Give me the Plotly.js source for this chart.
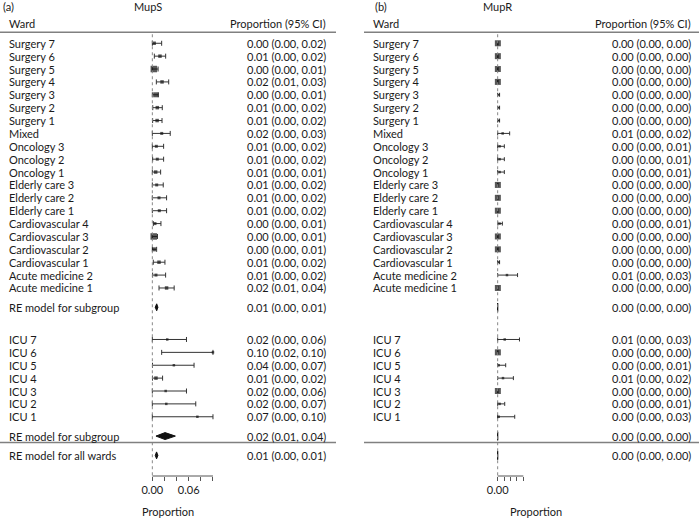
<!DOCTYPE html>
<html>
<head>
<meta charset="utf-8">
<script src="https://cdn.plot.ly/plotly-3.0.1.min.js"></script>
<style>html,body{margin:0;padding:0;background:#fff;}#chart{width:699px;height:519px;}</style>
</head>
<body>
<div id="chart"></div>
<script>
// ---------------- DATA ----------------
const otherWards = ['Surgery 7','Surgery 6','Surgery 5','Surgery 4','Surgery 3','Surgery 2','Surgery 1','Mixed',
  'Oncology 3','Oncology 2','Oncology 1','Elderly care 3','Elderly care 2','Elderly care 1',
  'Cardiovascular 4','Cardiovascular 3','Cardiovascular 2','Cardiovascular 1','Acute medicine 2','Acute medicine 1'];
const icuWards = ['ICU 7','ICU 6','ICU 5','ICU 4','ICU 3','ICU 2','ICU 1'];
const reSubgroupLabel = 'RE model for subgroup';
const reAllLabel = 'RE model for all wards';

// MupS (panel a)
const mupsOtherEst = [0.003,0.0126,0.0025,0.016,0.0055,0.0082,0.0079,0.0155,0.0066,0.0082,0.0055,0.0072,0.011,0.0115,0.0044,0.0023,0.0027,0.011,0.006,0.0235];
const mupsOtherLo  = [0,0.0033,0,0.0066,0,0.0007,0.0005,0,0,0.0005,0,0,0,0,0.0016,0,0,0.0016,0.0005,0.011];
const mupsOtherHi  = [0.0154,0.022,0.0095,0.027,0.01,0.0164,0.016,0.0295,0.0186,0.0186,0.0137,0.018,0.0235,0.0235,0.0142,0.0085,0.0071,0.0208,0.0219,0.036];
const mupsIcuEst = [0.0246,0.1,0.0355,0.006,0.022,0.023,0.0743];
const mupsIcuLo  = [0,0.0154,0.0003,0.0003,0,0,0];
const mupsIcuHi  = [0.0563,0.1,0.0688,0.0169,0.0563,0.0716,0.1];
const mupsRE = {other:[0.0072,0.0048,0.0092], icu:[0.021,0.006,0.038], all:[0.007,0.0048,0.0092]};
const mupsOtherText = ['0.00 (0.00, 0.02)','0.01 (0.00, 0.02)','0.00 (0.00, 0.01)','0.02 (0.01, 0.03)','0.00 (0.00, 0.01)',
  '0.01 (0.00, 0.02)','0.01 (0.00, 0.02)','0.02 (0.00, 0.03)','0.01 (0.00, 0.02)','0.01 (0.00, 0.02)','0.01 (0.00, 0.01)',
  '0.01 (0.00, 0.02)','0.01 (0.00, 0.02)','0.01 (0.00, 0.02)','0.00 (0.00, 0.01)','0.00 (0.00, 0.01)','0.00 (0.00, 0.01)',
  '0.01 (0.00, 0.02)','0.01 (0.00, 0.02)','0.02 (0.01, 0.04)'];
const mupsIcuText = ['0.02 (0.00, 0.06)','0.10 (0.02, 0.10)','0.04 (0.00, 0.07)','0.01 (0.00, 0.02)','0.02 (0.00, 0.06)','0.02 (0.00, 0.07)','0.07 (0.00, 0.10)'];
const mupsREText = {other:'0.01 (0.00, 0.01)', icu:'0.02 (0.01, 0.04)', all:'0.01 (0.00, 0.01)'};
const mupsTickVals = [0,0.02,0.04,0.06,0.08,0.10];
const mupsTickText = ['0.00','','','0.06','',''];

// MupR (panel b)
const muprOtherEst = [0.0003,0.0003,0.0003,0.0003,0.0015,0.0015,0.0015,0.0078,0.003,0.003,0.003,0.0003,0.0003,0.0003,0.003,0.0003,0.0003,0.0015,0.0145,0.0003];
const muprOtherLo  = [0,0,0,0,0,0,0,0,0,0,0,0,0,0,0.0003,0,0,0,0,0];
const muprOtherHi  = [0.0006,0.0006,0.0006,0.0006,0.003,0.003,0.003,0.0187,0.0104,0.0104,0.0104,0.0006,0.0006,0.0006,0.0073,0.0006,0.0006,0.003,0.031,0.0006];
const muprIcuEst = [0.011,0.0003,0.0015,0.0083,0.0003,0.003,0.0016];
const muprIcuLo  = [0,0,0,0,0,0,0];
const muprIcuHi  = [0.034,0.0006,0.0125,0.0245,0.0006,0.011,0.0266];
const muprRE = {other:[0,0,0.0004], icu:[0,0,0.0004], all:[0,0,0.0004]};
const muprOtherText = ['0.00 (0.00, 0.00)','0.00 (0.00, 0.00)','0.00 (0.00, 0.00)','0.00 (0.00, 0.00)','0.00 (0.00, 0.00)',
  '0.00 (0.00, 0.00)','0.00 (0.00, 0.00)','0.01 (0.00, 0.02)','0.00 (0.00, 0.01)','0.00 (0.00, 0.01)','0.00 (0.00, 0.01)',
  '0.00 (0.00, 0.00)','0.00 (0.00, 0.00)','0.00 (0.00, 0.00)','0.00 (0.00, 0.01)','0.00 (0.00, 0.00)','0.00 (0.00, 0.00)',
  '0.00 (0.00, 0.00)','0.01 (0.00, 0.03)','0.00 (0.00, 0.00)'];
const muprIcuText = ['0.01 (0.00, 0.03)','0.00 (0.00, 0.00)','0.00 (0.00, 0.01)','0.01 (0.00, 0.02)','0.00 (0.00, 0.00)','0.00 (0.00, 0.01)','0.00 (0.00, 0.03)'];
const muprREText = {other:'0.00 (0.00, 0.00)', icu:'0.00 (0.00, 0.00)', all:'0.00 (0.00, 0.00)'};
const muprTickVals = [0,0.01,0.02,0.03,0.04];
const muprTickText = ['0.00','','','',''];

// ---------------- STYLE / LAYOUT ----------------
const W = 699, H = 519;
const FONT = 'Lato, "Open Sans", sans-serif';
const TXT = '#1a1a1a';
const markerSizeA = [3.5,3.5,6.5,3.5,5,3.5,3.5,3,3,3,3.5,3,3,3,3,6.5,4,3.5,3,3.5, 2.5,2.5,2.5,3.5,2.5,2.5,2.5];
const markerSizeB = [6,6,6,6,2,2,2,2.5,2.5,2.5,2.5,6,6,6,2.5,6,6,2,2.5,6, 2.5,6,2.5,2.5,6,2.5,2.5];

// row layout
const otherRows = otherWards.map((_, i) => i);
const reOtherRow = otherWards.length + 0.5;
const icuRows = icuWards.map((_, i) => otherWards.length + 3 + i);
const reIcuRow = icuRows[icuRows.length - 1] + 1.5;
const sepRow = reIcuRow + 0.5;
const allRow = sepRow + 1;
const headRow = -1.55, titleRow = -2.84, headLineRow = -0.853;
const yRange = [33.6, -3.36];

const panels = [
  {xa:'x', key:'xaxis', est:mupsOtherEst.concat(mupsIcuEst), lo:mupsOtherLo.concat(mupsIcuLo), hi:mupsOtherHi.concat(mupsIcuHi),
   re:mupsRE, text:mupsOtherText.concat(mupsIcuText), reText:mupsREText, sizes:markerSizeA, cap:2.5,
   tickvals:mupsTickVals, ticktext:mupsTickText, range:[-0.004,0.104], domPx:[149.9,215.4], axMax:0.10,
   tag:'(a)', title:'MupS', tagX:2, titleX:133, labelX:8, valueX:327, lineX:[0,336], propX:167.5, showRELabels:true, diamondH:0.27},
  {xa:'x2', key:'xaxis2', est:muprOtherEst.concat(muprIcuEst), lo:muprOtherLo.concat(muprIcuLo), hi:muprOtherHi.concat(muprIcuHi),
   re:muprRE, text:muprOtherText.concat(muprIcuText), reText:muprREText, sizes:markerSizeB, cap:2,
   tickvals:muprTickVals, ticktext:muprTickText, range:[-0.004,0.044], domPx:[495.1,525.9], axMax:0.04,
   tag:'(b)', title:'MupR', tagX:374, titleX:482, labelX:372, valueX:692, lineX:[364,699], propX:535.5, showRELabels:false, diamondH:0.33}
];

const traces = [];
const annotations = [];
const shapes = [];
const layout = {
  width: W, height: H, margin:{l:0,r:0,t:0,b:43}, paper_bgcolor:'#fff', plot_bgcolor:'#fff',
  showlegend:false, hovermode:false,
  yaxis:{range:yRange, domain:[0,1], visible:false, showgrid:false, zeroline:false, fixedrange:true},
  font:{family:FONT, size:11, color:TXT}
};

const studyRows = otherRows.concat(icuRows);
const labels = otherWards.concat(icuWards);

panels.forEach(p => {
  layout[p.key] = {
    domain:[p.domPx[0]/W, p.domPx[1]/W], range:p.range, anchor:'y',
    tickvals:p.tickvals, ticktext:p.ticktext, ticks:'outside', ticklen:4, tickwidth:1, tickcolor:'#555',
    showline:false, showgrid:false, zeroline:false, fixedrange:true,
    tickfont:{family:FONT, size:11, color:TXT}
  };
  traces.push({
    type:'scatter', mode:'markers', xaxis:p.xa, yaxis:'y', cliponaxis:false,
    x:p.est, y:studyRows,
    marker:{symbol:'square', size:p.sizes, color:'#111', line:{width:0}},
    error_x:{type:'data', symmetric:false,
      array:p.est.map((e,i)=>p.hi[i]-e), arrayminus:p.est.map((e,i)=>e-p.lo[i]),
      color:'#333', thickness:1, width:p.cap}
  });
  [['other',reOtherRow],['icu',reIcuRow],['all',allRow]].forEach(([k,row]) => {
    const [e, lo, hi] = p.re[k];
    const h = p.diamondH;
    traces.push({
      type:'scatter', mode:'lines', xaxis:p.xa, yaxis:'y', cliponaxis:false,
      x:[lo, e, hi, e, lo], y:[row, row-h, row, row+h, row],
      fill:'toself', fillcolor:'#111', line:{color:'#111', width:1}
    });
  });
  shapes.push({type:'line', xref:p.xa, yref:'y', x0:0, x1:0, y0:-0.7, y1:yRange[0],
    line:{color:'#888', width:1, dash:'dot'}});
  shapes.push({type:'line', xref:p.xa, yref:'paper', x0:0, x1:p.axMax, y0:0, y1:0,
    line:{color:'#555', width:1}});
  [headLineRow, sepRow].forEach(r => shapes.push({type:'line', xref:'paper', yref:'y',
    x0:p.lineX[0]/W, x1:p.lineX[1]/W, y0:r, y1:r, line:{color:'#808080', width:1.5}}));

  const ann = (txt, xpx, row, anchor) => annotations.push({text:txt, xref:'paper', yref:'y',
    x:xpx/W, y:row, xanchor:anchor, yanchor:'middle', showarrow:false, borderpad:0,
    font:{family:FONT, size:11, color:TXT}});
  ann(p.tag, p.tagX, titleRow, 'left');
  ann(p.title, p.titleX, titleRow, 'left');
  ann('Ward', p.labelX, headRow, 'left');
  ann('Proportion (95% CI)', p.valueX, headRow, 'right');
  labels.forEach((l, i) => {
    ann(l, p.labelX, studyRows[i], 'left');
    ann(p.text[i], p.valueX, studyRows[i], 'right');
  });
  if (p.showRELabels) {
    ann(reSubgroupLabel, p.labelX, reOtherRow, 'left');
    ann(reSubgroupLabel, p.labelX, reIcuRow, 'left');
    ann(reAllLabel, p.labelX, allRow, 'left');
  }
  ann(p.reText.other, p.valueX, reOtherRow, 'right');
  ann(p.reText.icu, p.valueX, reIcuRow, 'right');
  ann(p.reText.all, p.valueX, allRow, 'right');
  annotations.push({text:'Proportion', xref:'paper', yref:'paper', x:p.propX/W, y:(476-511)/476,
    xanchor:'center', yanchor:'middle', showarrow:false, borderpad:0,
    font:{family:FONT, size:11, color:TXT}});
});

layout.annotations = annotations;
layout.shapes = shapes;

Plotly.newPlot('chart', traces, layout, {staticPlot:true, displayModeBar:false});
</script>
</body>
</html>
